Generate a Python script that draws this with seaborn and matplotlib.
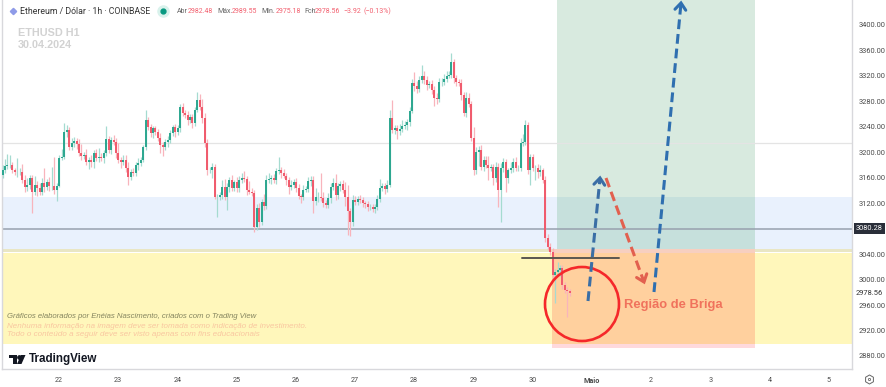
import numpy as np
import pandas as pd
import matplotlib
matplotlib.use("Agg")
import matplotlib.pyplot as plt
from matplotlib.patches import Rectangle, Ellipse, Polygon
import seaborn as sns

closes = [
 3172,3178,3180,3180,3172,3169,3169,3169,3156,3146,
 3149,3160,3138,3149,3144,3138,3152,3146,3153,3147,
 3147,3141,3147,3191,3193,3232,3235,3208,3215,3218,
 3213,3199,3194,3196,3185,3188,3185,3199,3191,3193,
 3191,3199,3221,3204,3219,3216,3199,3188,3185,3188,
 3175,3161,3169,3167,3180,3183,3188,3208,3251,3240,
 3230,3238,3232,3222,3211,3208,3216,3219,3230,3240,
 3232,3238,3271,3262,3259,3251,3255,3246,3266,3282,
 3271,3254,3215,3172,3172,3177,3130,3130,3133,3146,
 3130,3146,3156,3144,3153,3144,3156,3160,3158,3141,
 3138,3136,3083,3113,3090,3122,3116,3156,3158,3160,
 3156,3171,3172,3167,3163,3156,3146,3149,3153,3144,
 3131,3130,3141,3142,3155,3156,3123,3130,3130,3128,
 3120,3117,3128,3146,3152,3133,3147,3150,3141,3130,
 3108,3090,3125,3122,3127,3125,3120,3119,3114,3114,
 3111,3114,3127,3144,3147,3142,3149,3254,3235,3238,
 3233,3237,3241,3243,3248,3265,3309,3304,3299,3314,
 3320,3314,3306,3307,3298,3285,3284,3310,3310,3315,
 3320,3321,3342,3317,3310,3309,3290,3262,3285,3276,
 3222,3172,3200,3204,3177,3188,3180,3175,3177,3160,
 3177,3141,3175,3185,3160,3172,3175,3185,3175,3175,
 3215,3216,3243,3172,3193,3175,3175,3169,3172,3156,
 3065,3052,3044,3007,3012,3015,3018,2991,2984,2982,
 2978.56]
wick_up = [
 8,12,18,15,5,3,22,6,12,8,
 10,4,5,14,6,8,8,24,5,8,
 30,46,5,5,12,14,8,5,8,6,
 5,8,14,4,9,4,8,5,6,14,
 6,5,20,5,5,8,6,16,5,8,
 8,10,4,6,5,8,4,4,15,5,
 5,4,3,5,8,5,5,6,5,3,
 5,5,5,6,5,6,5,5,5,12,
 10,12,8,6,5,6,5,5,5,10,
 12,6,5,8,4,8,6,8,10,4,
 14,6,4,5,8,5,12,8,10,5,
 6,5,21,5,6,4,5,8,5,6,
 6,4,8,5,6,6,6,14,8,37,
 10,5,8,6,8,14,5,5,6,12,
 18,5,8,6,5,6,5,4,4,5,
 5,4,6,14,5,5,8,12,28,5,
 5,8,10,6,5,6,6,17,8,6,
 17,8,6,5,6,6,8,6,6,8,
 8,6,14,4,5,5,6,5,10,8,
 5,18,8,6,8,6,6,14,5,5,
 8,6,8,6,5,4,10,6,8,5,
 8,12,8,5,5,5,5,6,8,4,
 6,6,6,6,5,12,5,5,5,5,
 3]
wick_dn = [
 6,5,5,5,5,4,8,5,5,9,
 7,6,33,5,12,5,5,8,6,8,
 6,6,17,2,3,3,8,5,5,6,
 8,5,6,5,5,12,8,10,5,6,
 5,8,5,5,6,5,8,5,10,5,
 6,12,5,5,4,8,5,3,4,5,
 6,8,5,4,12,14,5,8,5,4,
 8,5,6,5,5,8,5,8,5,3,
 4,8,6,8,5,12,4,32,5,6,
 5,20,8,5,5,6,6,4,5,8,
 4,5,8,5,8,5,6,5,4,8,
 5,6,5,8,4,8,12,5,5,6,
 5,10,5,4,5,8,18,6,8,5,
 6,5,5,8,6,8,6,8,5,14,
 38,22,6,5,5,5,6,6,6,5,
 5,6,5,5,5,8,4,3,5,6,
 12,6,5,5,8,6,4,8,6,5,
 5,6,8,5,6,12,8,5,6,5,
 5,4,5,8,6,5,8,5,6,5,
 4,8,6,22,5,6,5,18,5,12,
 6,27,50,6,22,8,5,6,5,5,
 4,5,4,6,24,5,18,10,6,4,
 6,5,5,6,44,6,10,5,5,40,
 4]
day_ticks = [22, 23, 24, 25, 26, 27, 28, 29, 30, 31, 32, 33, 34, 35]
day_labels = ["22","23","24","25","26","27","28","29","30","Maio","2","3","4","5"]
price_ticks = [3400,3360,3320,3280,3240,3200,3160,3120,3040,3000,2960,2920,2880]
last_close = 2978.56
level_price = 3080.28

def X(px): return 22 + (px - 59) / 59.2
def Y(py): return 3400 - (py - 25) / 0.6365

opens = [3165.0] + closes[:-1]
first_day = X(2.5)
days = [first_day + i / 24 for i in range(len(closes))]
rows_w, rows_b = [], []
for i, (d, o, c, u, l) in enumerate(zip(days, opens, closes, wick_up, wick_dn)):
    kind = "up" if c >= o else "down"
    rows_w += [dict(day=d, price=max(o, c) + u, candle=i, kind=kind),
               dict(day=d, price=min(o, c) - l, candle=i, kind=kind)]
    rows_b += [dict(day=d, price=o, candle=i, kind=kind),
               dict(day=d, price=c, candle=i, kind=kind)]
wicks = pd.DataFrame(rows_w)
bodies = pd.DataFrame(rows_b)

sns.set_style("white")
plt.rcParams['font.family'] = ['Liberation Sans', 'DejaVu Sans']
fig = plt.figure(figsize=(8.86, 3.87), dpi=100, facecolor="white")
ax = fig.add_axes([2/886, 1 - 369/387, 850/886, 369/387])
ax.set_xlim(X(2), X(852))
ax.set_ylim(Y(369), Y(0))

def band(x0, x1, y0, y1, color, z=1):
    ax.add_patch(Rectangle((X(x0), Y(y1)), X(x1) - X(x0), Y(y0) - Y(y1), fc=color, ec="none", zorder=z))

band(2, 852, 197, 249, "#e9f1fd")
band(2, 852, 249, 252, "#e9e6c4")
band(2, 852, 253, 344, "#fff7bb")
band(557, 755, 0, 197, "#d8eadf", 1.5)
band(557, 755, 197, 249, "#c6e0dc", 1.5)
band(552, 755, 249, 253, "#f7cfc0", 1.6)
band(552, 755, 253, 344, "#ffd09e", 1.6)
band(552, 755, 344, 348, "#ffd9dc", 1.6)

ax.axhline(Y(143), color="#e4e4e4", lw=0.9, zorder=2)
ax.axhline(level_price, color="#98a1ae", lw=1.1, zorder=2)

pal_w = {"up": "#a5dbd0", "down": "#f8b4bc"}
pal_b = {"up": "#2aa68f", "down": "#f0596b"}
sns.lineplot(data=wicks, x="day", y="price", hue="kind", units="candle", estimator=None,
             sort=False, palette=pal_w, lw=0.9, legend=False, ax=ax, zorder=3, solid_capstyle="butt")
sns.lineplot(data=bodies, x="day", y="price", hue="kind", units="candle", estimator=None,
             sort=False, palette=pal_b, lw=1.4, legend=False, ax=ax, zorder=4, solid_capstyle="butt")
ax.set_xlabel(""); ax.set_ylabel("")

ax.plot([X(522), X(619)], [Y(258), Y(258)], color="#5a5650", lw=1.4, zorder=5)
ax.add_patch(Ellipse((X(582), Y(304)), 74/59.2, 74/0.6365, fc="none", ec="#f5282a", lw=1.9, zorder=6))

def arrow(p0, p1, color, lw=2.2, head=9):
    (x0, y0), (x1, y1) = p0, p1
    ax.plot([X(x0), X(x1)], [Y(y0), Y(y1)], color=color, lw=lw, zorder=7,
            dashes=(3.2, 1.6), solid_capstyle="butt", dash_capstyle="butt")
    v = np.array([x1 - x0, y1 - y0], float); v /= np.hypot(*v)
    n = np.array([-v[1], v[0]])
    tip = np.array([x1, y1])
    a = tip - v * head * 0.75 + n * head * 0.6
    b = tip - v * head * 0.75 - n * head * 0.6
    ax.plot([X(a[0]), X(x1), X(b[0])], [Y(a[1]), Y(y1), Y(b[1])], color=color, lw=lw, zorder=7,
            solid_joinstyle="miter")

arrow((588, 301), (600, 178), "#3a6ea5")
arrow((654, 292), (681, 3), "#2f6fb0")
arrow((606, 178), (644, 282), "#e2604f")

def txt(px, py, s, **kw):
    kw.setdefault("va", "center")
    return ax.text(X(px), Y(py), s, zorder=9, **kw)

txt(624, 305, "Região de Briga", color="#f0725c", fontsize=9.4, fontweight="bold")
txt(18, 33, "ETHUSD H1", color="#d2d2d2", fontsize=7.8, fontweight="bold")
txt(18, 45, "30.04.2024", color="#d2d2d2", fontsize=7.8, fontweight="bold")

head = dict(fontsize=6.3, color="#333333", family=["Roboto", "DejaVu Sans"])
txt(20, 11.5, "Ethereum / Dólar · 1h · COINBASE", **head)
ax.plot([X(12.5)], [Y(11.5)], marker="D", ms=3.2, color="#8f9be8", clip_on=False, zorder=9)
ax.plot([X(162.5)], [Y(11.5)], marker="o", ms=8, color="#d9f2ec", clip_on=False, zorder=9)
ax.plot([X(162.5)], [Y(11.5)], marker="o", ms=3.5, color="#089981", clip_on=False, zorder=9)
for px, s, c in [(177, "Abr", "#666666"), (188, "2982.48", "#f2606f"), (217, "Máx.", "#666666"),
                 (232, "2989.55", "#f2606f"), (261, "Mín.", "#666666"), (276, "2975.18", "#f2606f"),
                 (304, "Fch", "#666666"), (315, "2978.56", "#f2606f"), (343, "−3.92", "#f2606f"),
                 (363, "(−0.13%)", "#f2606f")]:
    txt(px, 11.5, s, fontsize=5.0, color=c, family=["Roboto", "DejaVu Sans"])

txt(7, 317, "Gráficos elaborados por Enéias Nascimento, criados com o Trading View",
    fontsize=5.6, style="italic", color="#85855f")
txt(7, 327, "Nenhuma informação na imagem deve ser tomada como indicação de investimento.",
    fontsize=5.75, style="italic", color="#f9c6a0")
txt(7, 335, "Todo o conteúdo a seguir deve ser visto apenas com fins educacionais",
    fontsize=5.75, style="italic", color="#f9c6a0")

txt(29, 359, "TradingView", fontsize=8.4, fontweight="bold", color="#131722")
def poly(pts, color="#131722"):
    ax.add_patch(Polygon([(X(a), Y(b)) for a, b in pts], fc=color, ec="none", zorder=9))
poly([(9, 355), (17, 355), (17, 364), (13, 364), (13, 358.5), (9, 358.5)])
poly([(21, 355), (25.5, 355), (21.5, 364), (17, 364)])
ax.plot([X(18.7)], [Y(357)], marker="o", ms=2.4, color="#131722", zorder=9)

ax.yaxis.tick_right()
ax.set_yticks(price_ticks)
ax.set_yticklabels([f"{p:.2f}" for p in price_ticks], fontsize=5.4, color="#4a4a4a",
                   family=["Roboto", "DejaVu Sans"])
ax.set_xticks(day_ticks)
ax.set_xticklabels(day_labels, fontsize=5.2, color="#4a4a4a", family=["Roboto", "DejaVu Sans"])
ax.get_xticklabels()[9].set_fontweight("bold")
ax.tick_params(axis="both", length=0, pad=5)
ax.tick_params(axis="x", pad=6)

for s in ["left", "right", "bottom"]:
    ax.spines[s].set_visible(True)
    ax.spines[s].set_color("#d8d8dc")
    ax.spines[s].set_linewidth(1.0)
ax.spines["top"].set_visible(False)

ax.text(X(856), level_price, f"{level_price:.2f}", fontsize=5.4, color="white", va="center",
        family=["Roboto", "DejaVu Sans"], zorder=10,
        bbox=dict(fc="#2a2e39", ec="none", pad=1.4), clip_on=False)
ax.text(X(856), last_close, f"{last_close:.2f}", fontsize=5.4, color="#333333", va="center",
        family=["Roboto", "DejaVu Sans"], zorder=10,
        bbox=dict(fc="white", ec="none", pad=1.6), clip_on=False)
ax.plot([X(869)], [Y(379)], marker="h", ms=6.5, mfc="none", mec="#666666", mew=0.7, clip_on=False)
ax.plot([X(869)], [Y(379)], marker="o", ms=1.6, mfc="none", mec="#666666", mew=0.6, clip_on=False)

fig.savefig("out.png", dpi=100)
